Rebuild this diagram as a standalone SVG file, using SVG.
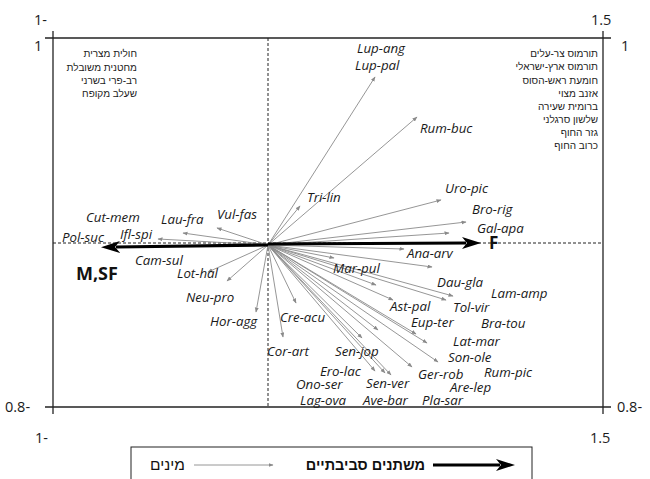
<svg xmlns="http://www.w3.org/2000/svg" width="650" height="479" viewBox="0 0 650 479">
<defs>
<style>
.sp{font-family:"Open Sans","DejaVu Sans",sans-serif;font-style:italic;font-size:13.3px;fill:#1a1a1a}
.ax{font-family:"Open Sans","Liberation Sans",sans-serif;font-size:14.5px;fill:#1a1a1a}
.he{font-family:"Liberation Sans","DejaVu Sans",sans-serif;font-size:10px;fill:#222;text-anchor:end}
.lg{font-family:"Liberation Sans","DejaVu Sans",sans-serif;font-size:14.5px;fill:#111;text-anchor:end}
.big{font-family:"Open Sans","Liberation Sans",sans-serif;font-weight:bold;font-size:18px;fill:#111}
.frame{stroke:#222;stroke-width:1.3;fill:none}
.dash{stroke:#222;stroke-width:1;stroke-dasharray:3,2;fill:none}
.vec{stroke:#8a8a8a;stroke-width:0.9;fill:none;marker-end:url(#ah)}
.env{stroke:#000;stroke-width:3.2;fill:none;marker-end:url(#bh)}
</style>
<marker id="ah" markerUnits="userSpaceOnUse" markerWidth="6" markerHeight="5" refX="4.5" refY="2" orient="auto">
<path d="M0,0 L5,2 L0,4 z" fill="#8a8a8a"/>
</marker>
<marker id="bh" markerUnits="userSpaceOnUse" markerWidth="20" markerHeight="14" refX="4" refY="6" orient="auto">
<path d="M0,0 L19,6 L0,12 L5,6 z" fill="#000"/>
</marker>
</defs>
<rect width="650" height="479" fill="#fff"/>

<g id="frame">
<line class="frame" x1="45" y1="38" x2="611" y2="38"/>
<line class="frame" x1="45" y1="407" x2="611" y2="407"/>
<line class="frame" x1="53" y1="31" x2="53" y2="414"/>
<line class="frame" x1="603" y1="31" x2="603" y2="414"/>
<line class="dash" x1="268" y1="38" x2="268" y2="407"/>
<line class="dash" x1="53" y1="243" x2="603" y2="243"/>
<text class="ax" x="34" y="25">1-</text>
<text class="ax" x="591" y="25">1.5</text>
<text class="ax" x="34" y="51">1</text>
<text class="ax" x="621" y="51">1</text>
<text class="ax" x="5" y="412">0.8-</text>
<text class="ax" x="617" y="412">0.8-</text>
<text class="ax" x="35" y="443">1-</text>
<text class="ax" x="590" y="443">1.5</text>
</g>

<g id="note-left">
<text class="he" x="137" y="57">חולית מצרית</text>
<text class="he" x="137" y="71">מחטנית משובלת</text>
<text class="he" x="137" y="84">רב-פרי בשרני</text>
<text class="he" x="137" y="97">שעלב מקופח</text>
</g>
<g id="note-right">
<text class="he" x="598" y="57">תורמוס צר-עלים</text>
<text class="he" x="598" y="70">תורמוס ארץ-ישראלי</text>
<text class="he" x="598" y="84">חומעת ראש-הסוס</text>
<text class="he" x="598" y="97">אזנב מצוי</text>
<text class="he" x="598" y="110">ברומית שעירה</text>
<text class="he" x="598" y="123">שלשון סרגלני</text>
<text class="he" x="598" y="136">גזר החוף</text>
<text class="he" x="598" y="149">כרוב החוף</text>
</g>

<g id="connectors">
<line class="vec" x1="268" y1="245" x2="375" y2="77"/>
<line class="vec" x1="268" y1="245" x2="417" y2="117"/>
<line class="vec" x1="268" y1="245" x2="300" y2="206"/>
<line class="vec" x1="268" y1="245" x2="441" y2="200"/>
<line class="vec" x1="268" y1="245" x2="466" y2="222"/>
<line class="vec" x1="268" y1="245" x2="449" y2="233"/>
<line class="vec" x1="268" y1="245" x2="404" y2="249"/>
<line class="vec" x1="268" y1="245" x2="334" y2="258"/>
<line class="vec" x1="268" y1="245" x2="432" y2="267"/>
<line class="vec" x1="268" y1="245" x2="376" y2="285"/>
<line class="vec" x1="268" y1="245" x2="393" y2="300"/>
<line class="vec" x1="268" y1="245" x2="453" y2="296"/>
<line class="vec" x1="268" y1="245" x2="446" y2="300"/>
<line class="vec" x1="268" y1="245" x2="416" y2="334"/>
<line class="vec" x1="268" y1="245" x2="427" y2="343"/>
<line class="vec" x1="268" y1="245" x2="438" y2="362"/>
<line class="vec" x1="268" y1="245" x2="412" y2="367"/>
<line class="vec" x1="268" y1="245" x2="362" y2="338"/>
<line class="vec" x1="268" y1="245" x2="378" y2="330"/>
<line class="vec" x1="268" y1="245" x2="375" y2="371"/>
<line class="vec" x1="268" y1="245" x2="385" y2="373"/>
<line class="vec" x1="268" y1="245" x2="391" y2="375"/>
<line class="vec" x1="268" y1="245" x2="296" y2="303"/>
<line class="vec" x1="268" y1="245" x2="283" y2="337"/>
<line class="vec" x1="268" y1="245" x2="256" y2="312"/>
<line class="vec" x1="268" y1="245" x2="227" y2="281"/>
<line class="vec" x1="268" y1="245" x2="208" y2="272"/>
<line class="vec" x1="268" y1="245" x2="158" y2="239"/>
<line class="vec" x1="268" y1="245" x2="183" y2="233"/>
<line class="vec" x1="268" y1="245" x2="217" y2="228"/>
<line class="env" x1="268" y1="244" x2="466" y2="243"/>
<line class="env" x1="268" y1="245" x2="116" y2="247"/>
</g>

<g id="env-F"><text class="big" x="489" y="249" style="font-size:17px">F</text></g>
<g id="env-MSF"><text class="big" x="76" y="280">M,SF</text></g>

<g id="species">
<text class="sp" x="357" y="53">Lup-ang</text>
<text class="sp" x="355" y="70">Lup-pal</text>
<text class="sp" x="420" y="133">Rum-buc</text>
<text class="sp" x="307" y="202">Tri-lin</text>
<text class="sp" x="445" y="193">Uro-pic</text>
<text class="sp" x="472" y="214">Bro-rig</text>
<text class="sp" x="477" y="233">Gal-apa</text>
<text class="sp" x="407" y="258">Ana-arv</text>
<text class="sp" x="333" y="273">Mar-pul</text>
<text class="sp" x="437" y="287">Dau-gla</text>
<text class="sp" x="491" y="298">Lam-amp</text>
<text class="sp" x="453" y="312">Tol-vir</text>
<text class="sp" x="390" y="311">Ast-pal</text>
<text class="sp" x="411" y="327">Eup-ter</text>
<text class="sp" x="481" y="328">Bra-tou</text>
<text class="sp" x="453" y="346">Lat-mar</text>
<text class="sp" x="448" y="362">Son-ole</text>
<text class="sp" x="484" y="377">Rum-pic</text>
<text class="sp" x="418" y="379">Ger-rob</text>
<text class="sp" x="450" y="392">Are-lep</text>
<text class="sp" x="422" y="405">Pla-sar</text>
<text class="sp" x="335" y="356">Sen-jop</text>
<text class="sp" x="320" y="376">Ero-lac</text>
<text class="sp" x="366" y="388">Sen-ver</text>
<text class="sp" x="296" y="389">Ono-ser</text>
<text class="sp" x="300" y="405">Lag-ova</text>
<text class="sp" x="363" y="405">Ave-bar</text>
<text class="sp" x="280" y="322">Cre-acu</text>
<text class="sp" x="267" y="356">Cor-art</text>
<text class="sp" x="210" y="326">Hor-agg</text>
<text class="sp" x="186" y="302">Neu-pro</text>
<text class="sp" x="177" y="278">Lot-hal</text>
<text class="sp" x="135" y="265">Cam-sul</text>
<text class="sp" x="86" y="222">Cut-mem</text>
<text class="sp" x="161" y="224">Lau-fra</text>
<text class="sp" x="217" y="219">Vul-fas</text>
<text class="sp" x="62" y="242">Pol-suc</text>
<text class="sp" x="120" y="239">Ifl-spi</text>
</g>

<g id="legend">
<rect x="131" y="447" width="401" height="40" fill="#fff" stroke="#222" stroke-width="1"/>
<text class="lg" x="425" y="470" style="font-weight:bold">משתנים סביבתיים</text>
<line x1="433" y1="465" x2="500" y2="465" stroke="#000" stroke-width="3" marker-end="url(#bh)"/>
<text class="lg" x="185" y="470" style="font-size:15.5px">מינים</text>
<line class="vec" x1="194" y1="465" x2="273" y2="465"/>
</g>
</svg>
